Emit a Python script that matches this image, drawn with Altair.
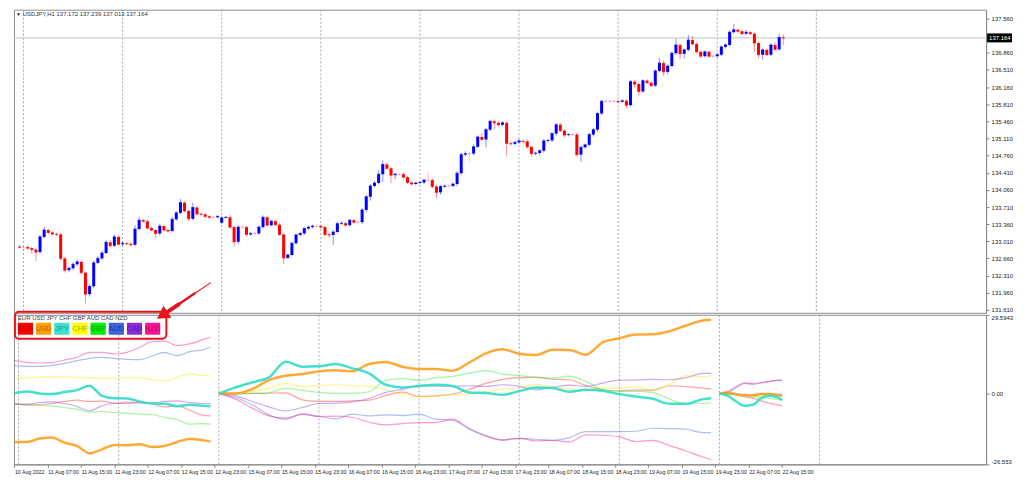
import altair as alt
import pandas as pd
import math

# ---------------- data ----------------
# USDJPY H1 closes, bar 0 = 10 Aug 23:00 ... bar 185 = 22 Aug 16:00
closes = [
    132.89, 132.89, 132.87, 132.84, 132.79, 133.10, 133.24, 133.19, 133.16, 133.15,
    132.66, 132.42, 132.46, 132.54, 132.59, 132.37, 131.93, 132.09, 132.57, 132.66,
    132.77, 132.99, 132.92, 133.10, 132.95, 132.97, 132.96, 132.94, 133.26, 133.44,
    133.42, 133.28, 133.24, 133.17, 133.32, 133.24, 133.22, 133.46, 133.59, 133.80,
    133.63, 133.47, 133.70, 133.57, 133.56, 133.52, 133.50, 133.50, 133.52, 133.49,
    133.50, 133.30, 133.00, 133.30, 133.30, 133.15, 133.17, 133.17, 133.30, 133.50,
    133.34, 133.42, 133.35, 133.15, 132.67, 132.73, 132.97, 133.14, 133.17, 133.27,
    133.30, 133.32, 133.32, 133.30, 133.15, 133.14, 133.20, 133.37, 133.38, 133.34,
    133.44, 133.40, 133.40, 133.65, 133.92, 134.14, 134.20, 134.38, 134.58, 134.50,
    134.36, 134.38, 134.38, 134.32, 134.21, 134.18, 134.20, 134.21, 134.26, 134.26,
    134.13, 134.01, 134.13, 134.14, 134.14, 134.18, 134.40, 134.78, 134.80, 134.80,
    134.94, 135.14, 135.09, 135.29, 135.46, 135.43, 135.39, 135.43, 135.01, 135.00,
    135.03, 135.06, 135.05, 134.94, 134.80, 134.81, 134.86, 135.06, 135.07, 135.21,
    135.39, 135.27, 135.18, 135.19, 135.19, 134.78, 134.93, 134.98, 135.19, 135.29,
    135.62, 135.87, 135.87, 135.87, 135.87, 135.86, 135.88, 135.79, 136.27, 136.22,
    136.07, 136.29, 136.25, 136.19, 136.49, 136.65, 136.47, 136.59, 136.85, 137.02,
    136.84, 136.92, 137.12, 137.04, 136.88, 136.79, 136.88, 136.79, 136.79, 136.82,
    136.98, 137.02, 137.28, 137.33, 137.30, 137.25, 137.28, 137.25, 137.06, 136.82,
    136.92, 136.82, 137.02, 136.93, 137.172, 137.164,
]
upper_wick = [
    .03, .03, .03, .03, .03, .04, .07, .03, .03, .03,
    .03, .03, .04, .04, .04, .03, .03, .05, .05, .05,
    .05, .05, .04, .05, .03, .03, .03, .03, .08, .07,
    .03, .03, .03, .03, .04, .03, .03, .05, .04, .08,
    .03, .03, .10, .04, .03, .03, .02, .02, .02, .03,
    .03, .05, .03, .04, .03, .03, .03, .03, .03, .04,
    .03, .03, .03, .03, .03, .03, .03, .03, .03, .03,
    .03, .03, .03, .03, .03, .03, .04, .04, .03, .03,
    .03, .03, .03, .04, .04, .04, .04, .08, .08, .04,
    .03, .03, .03, .04, .03, .03, .03, .03, .03, .16,
    .04, .03, .03, .03, .03, .03, .04, .04, .05, .03,
    .05, .03, .09, .04, .03, .04, .03, .03, .03, .03,
    .03, .04, .03, .04, .03, .03, .03, .04, .03, .03,
    .04, .04, .03, .03, .03, .04, .03, .03, .04, .04,
    .04, .03, .02, .02, .02, .03, .03, .03, .04, .03,
    .03, .03, .03, .04, .03, .10, .05, .03, .04, .13,
    .03, .03, .10, .08, .03, .03, .03, .03, .03, .03,
    .03, .03, .04, .12, .03, .03, .05, .03, .03, .03,
    .03, .03, .03, .06, .08, .07,
]
lower_wick = [
    .03, .03, .03, .08, .18, .03, .03, .03, .03, .03,
    .04, .05, .04, .04, .04, .03, .19, .05, .03, .03,
    .03, .03, .04, .03, .03, .03, .03, .03, .03, .03,
    .03, .03, .03, .10, .04, .03, .03, .03, .03, .03,
    .03, .05, .03, .04, .03, .03, .02, .02, .02, .03,
    .03, .03, .10, .05, .03, .04, .03, .03, .03, .03,
    .03, .03, .03, .03, .13, .03, .03, .03, .03, .03,
    .03, .03, .03, .03, .04, .06, .20, .03, .03, .03,
    .03, .03, .03, .04, .05, .08, .03, .03, .16, .03,
    .16, .08, .03, .04, .03, .03, .03, .03, .03, .03,
    .04, .12, .05, .03, .03, .03, .04, .04, .03, .16,
    .03, .03, .03, .16, .03, .14, .03, .03, .25, .03,
    .03, .03, .03, .04, .06, .03, .03, .04, .03, .03,
    .05, .03, .05, .03, .03, .04, .15, .03, .04, .04,
    .04, .03, .02, .02, .02, .03, .03, .07, .03, .07,
    .08, .03, .03, .03, .03, .03, .08, .05, .03, .03,
    .12, .10, .03, .03, .03, .03, .03, .03, .03, .03,
    .03, .03, .03, .03, .03, .03, .03, .03, .18, .07,
    .10, .03, .03, .03, .03, .15,
]
first_open = 132.90
gap_open = {49: 133.39}          # Monday 15 Aug open
current_bar = {"open": 137.172, "high": 137.239, "low": 137.013, "close": 137.164}

time_labels = [
    "10 Aug 2022", "11 Aug 07:00", "11 Aug 15:00", "11 Aug 23:00", "12 Aug 07:00",
    "12 Aug 15:00", "12 Aug 23:00", "15 Aug 07:00", "15 Aug 15:00", "15 Aug 23:00",
    "16 Aug 07:00", "16 Aug 15:00", "16 Aug 23:00", "17 Aug 07:00", "17 Aug 15:00",
    "17 Aug 23:00", "18 Aug 07:00", "18 Aug 15:00", "18 Aug 23:00", "19 Aug 07:00",
    "19 Aug 15:00", "19 Aug 23:00", "22 Aug 07:00", "22 Aug 15:00",
]
label_step = 8
day_starts = [1, 25, 49, 73, 97, 121, 145, 169, 193]
price_ticks = [131.61, 131.96, 132.31, 132.66, 133.01, 133.36, 133.71, 134.06,
               134.41, 134.76, 135.11, 135.46, 135.81, 136.16, 136.51, 136.86, 137.56]
strength_ticks = [-26.553, 0.0, 29.5943]
strength_tick_labels = ["-26.553", "0.00", "29.5943"]

currencies = ["EUR", "USD", "JPY", "CHF", "GBP", "AUD", "CAD", "NZD"]
line_colors = ["#ff3030", "#ffa020", "#30dcc8", "#eeee00", "#30ee30", "#4a6ee0", "#9040e0", "#ff2090"]
box_colors = ["#ff0000", "#ff9f00", "#40e0d0", "#ffff00", "#00ee00", "#3f63dd", "#8a2be2", "#ff1493"]
box_text_colors = ["#b00000", "#c06000", "#1a9e90", "#a8a800", "#009a00", "#1c3a9a", "#561a9c", "#b0105a"]
thick_currencies = ["USD", "JPY"]

seg_bars = {
    "A": [0, 3, 6, 9, 12, 15, 18, 21, 24, 27, 30, 33, 36, 39, 42, 45, 47],
    "B": [49, 53, 57, 61, 65, 69, 73, 77, 81, 85, 89, 93, 97, 101, 105, 109, 113,
          117, 121, 125, 129, 133, 137, 141, 145, 149, 153, 157, 161, 165, 167],
    "C": [169, 171, 173, 175, 177, 179, 181, 183, 184],
}
strength = {
    "A": {
        "EUR": [-3.96, -4.21, -4.08, -3.71, -2.95, -2.45, -2.95, -2.83, -3.58, -3.20, -3.45, -3.83, -4.96, -4.58, -6.22, -8.10, -8.35],
        "USD": [-18.15, -18.15, -16.89, -16.52, -18.40, -19.66, -22.42, -20.91, -19.28, -19.40, -19.03, -20.03, -19.66, -18.15, -17.02, -17.40, -18.02],
        "JPY": [0.19, 0.82, 0.06, -0.19, 0.57, 1.32, 2.95, -0.82, -1.70, -1.82, -2.95, -3.71, -3.83, -4.71, -4.21, -4.58, -4.71],
        "CHF": [5.84, 5.97, 6.09, 6.22, 6.34, 6.09, 5.97, 5.84, 5.84, 5.97, 5.97, 5.21, 4.84, 6.09, 7.35, 6.84, 6.59],
        "GBP": [-3.96, -4.21, -4.46, -4.71, -5.21, -5.84, -6.97, -6.72, -7.10, -7.35, -7.72, -7.85, -8.98, -9.73, -11.49, -11.24, -11.49],
        "AUD": [10.49, 10.24, 10.24, 10.61, 11.37, 12.37, 13.25, 13.63, 13.25, 12.87, 12.75, 14.13, 15.51, 14.26, 15.76, 16.39, 17.40],
        "CAD": [-3.96, -3.96, -3.33, -3.08, -3.71, -4.84, -6.47, -4.58, -3.71, -3.71, -3.33, -3.58, -2.95, -2.70, -3.33, -3.71, -3.71],
        "NZD": [12.37, 11.74, 11.49, 11.62, 12.62, 13.63, 15.51, 15.51, 14.88, 15.51, 17.40, 19.53, 19.66, 18.02, 18.65, 20.16, 21.17],
    },
    "B": {
        "EUR": [0, 0.06, 0.06, 0.19, 0.31, -2.32, -2.95, -2.95, -2.70, -2.45, -0.69, 0.57, -1.07, -0.82, -0.19, 1.57, 3.83, 5.34, 5.97, 6.09, 5.46, 5.21, 3.08, 1.44, 1.07, 1.32, 1.32, 2.95, 2.57, 2.07, 1.70],
        "USD": [0, 0.06, 1.70, 5.09, 6.72, 7.35, 8.35, 8.73, 8.35, 11.12, 11.87, 10.11, 9.23, 9.23, 8.60, 11.62, 15.13, 16.64, 14.99, 14.50, 16.45, 16.33, 14.63, 19.28, 20.79, 22.17, 22.29, 23.42, 25.56, 27.44, 27.69],
        "JPY": [0, 2.32, 4.21, 6.09, 11.99, 10.11, 10.24, 11.12, 9.49, 7.60, 3.33, 2.32, 2.83, 3.33, 2.83, 0.44, 0.19, -0.44, 0.94, 2.32, 2.07, 0.69, 1.44, 1.07, -0.19, -1.07, -1.95, -3.83, -3.83, -2.07, -1.70],
        "CHF": [0, 0.06, 0.82, 2.07, 3.83, 2.70, 2.95, 3.33, 2.95, 2.83, 1.44, -0.31, -1.19, -0.82, -0.31, -0.31, 0.82, 1.70, 2.20, 3.45, 2.45, 1.70, 1.19, 2.07, 2.07, 2.57, 1.19, 3.45, 6.72, 6.34, 6.72],
        "GBP": [0, -0.19, 0.06, 0.31, 1.95, 1.19, 0.44, 0.06, 0.06, 0.69, 4.96, 5.59, 4.96, 5.97, 6.47, 7.72, 8.60, 7.35, 6.72, 6.22, 5.84, 6.59, 4.58, 1.44, 0.82, 0.82, 0.44, -2.07, -3.83, -3.71, -3.33],
        "AUD": [0, -1.44, -4.21, -7.97, -9.61, -7.72, -8.60, -9.48, -7.72, -8.35, -7.97, -8.23, -7.72, -9.61, -9.98, -13.38, -15.89, -17.27, -16.77, -17.14, -17.52, -16.52, -14.26, -14.26, -14.26, -14.13, -13.00, -13.13, -13.38, -14.63, -14.63],
        "CAD": [0, -0.82, -2.95, -4.96, -6.47, -5.21, -3.71, -3.58, -3.08, -1.82, 0.44, 1.57, 2.95, 2.83, 2.70, 2.95, 2.70, 3.33, 2.70, 1.44, 2.32, 3.20, 2.70, 3.96, 5.09, 5.09, 5.34, 5.21, 5.97, 7.60, 7.60],
        "NZD": [0, -2.07, -5.46, -8.35, -9.23, -7.72, -8.60, -8.48, -8.98, -10.74, -11.74, -11.24, -10.86, -10.86, -9.61, -12.99, -15.89, -17.52, -16.77, -17.77, -17.52, -18.15, -15.51, -15.64, -16.26, -18.02, -17.52, -19.53, -21.54, -23.80, -24.68],
    },
    "C": {
        "EUR": [0, -0.19, -0.44, -1.19, -1.70, -2.70, -3.58, -4.21, -4.58],
        "USD": [0, 0.44, -0.31, -0.69, -0.57, -0.19, -0.19, -0.57, -0.82],
        "JPY": [0, -0.82, -2.95, -4.58, -4.21, -1.70, -0.82, -1.44, -2.45],
        "CHF": [0, -0.19, -0.44, -0.94, -1.07, -0.82, -0.82, -0.82, -0.82],
        "GBP": [0, -0.19, -0.44, -0.82, -1.07, -1.44, -1.82, -2.20, -2.45],
        "AUD": [0, 0.44, 2.20, 3.83, 3.45, 4.08, 4.58, 5.09, 5.09],
        "CAD": [0, 0.06, -0.06, -0.31, -0.44, -0.31, -0.19, -0.19, -0.19],
        "NZD": [0, 0.82, 2.70, 4.08, 3.83, 4.08, 4.58, 4.96, 4.84],
    },
}

# ---------------- tables ----------------
n = len(closes)
opens = [first_open] + closes[:-1]
for k, v in gap_open.items():
    opens[k] = v
opens[-1] = current_bar["open"]
rows = []
for i in range(n):
    o, c = opens[i], closes[i]
    hi = max(o, c) + upper_wick[i]
    lo = min(o, c) - lower_wick[i]
    if i == n - 1:
        hi, lo = current_bar["high"], current_bar["low"]
    d = "up" if c > o + 1e-9 else ("down" if c < o - 1e-9 else "doji")
    rows.append(dict(i=i, open=o, close=c, high=hi, low=lo, dir=d))
candles = pd.DataFrame(rows)

lrows = []
for seg, bars in seg_bars.items():
    for cur, vals in strength[seg].items():
        for b, v in zip(bars, vals):
            lrows.append(dict(seg=seg, i=b, cur=cur, v=v))
lines_df = pd.DataFrame(lrows)

# ---------------- layout ----------------
FONT = "Liberation Sans"
W, H1, H2 = 975, 304, 150
sx = W / 995.0
sy1 = H1 / 311.0
sy2 = H2 / 150.0
rx = lambda X: (X - 2) * sx
ry1 = lambda Y: (Y - 2) * sy1
ry2 = lambda Y: (Y - 315) * sy2

X_DOMAIN = [-0.1, 232.9]
P_DOMAIN = [131.55, 137.74]
S_DOMAIN = [strength_ticks[0], strength_ticks[-1]]

xs = alt.Scale(domain=X_DOMAIN, nice=False, zero=False)
ps = alt.Scale(domain=P_DOMAIN, nice=False, zero=False)
ss = alt.Scale(domain=S_DOMAIN, nice=False, zero=False)
dir_scale = alt.Scale(domain=["up", "down", "doji"], range=["#0000ff", "#ff0000", "#ff66cc"])
cur_scale = alt.Scale(domain=currencies, range=line_colors)

yax1 = alt.Axis(orient="right", values=price_ticks, format=".3f", title=None, grid=False,
                labelFontSize=6, labelFont=FONT, labelColor="#222", tickSize=3,
                tickColor="#888", domainColor="#888", labelPadding=2)
label_array = "[" + ",".join("'%s'" % t for t in time_labels) + "]"
xax = alt.Axis(values=list(range(0, label_step * len(time_labels), label_step)),
               labelExpr=label_array + "[round(datum.value/%d)]" % label_step,
               labelAlign="left", labelFontSize=5.3, labelFont=FONT, labelColor="#222",
               tickSize=3, tickColor="#888", domainColor="#888", labelPadding=2,
               labelOverlap=False, labelFlush=False, grid=False, title=None)
yax2 = alt.Axis(orient="right", values=strength_ticks,
                labelExpr="datum.value > 1 ? '%s' : (datum.value < -1 ? '%s' : '%s')" % (
                    strength_tick_labels[2], strength_tick_labels[0], strength_tick_labels[1]),
                title=None, grid=False, labelFlush=True, labelFontSize=6, labelFont=FONT,
                labelColor="#222", tickSize=3, tickColor="#888", domainColor="#888", labelPadding=2)

one = alt.Data(values=[{}])
seps_df = pd.DataFrame({"i": day_starts})

# ---------------- upper pane ----------------
seps_up = alt.Chart(seps_df).mark_rule(color="#a8a8a8", strokeDash=[2, 2], strokeWidth=1).encode(
    x=alt.X("i:Q", scale=xs, axis=None))
price_line = alt.Chart(pd.DataFrame({"p": [current_bar["close"]]})).mark_rule(
    color="#c4c4c4", strokeWidth=1).encode(y=alt.Y("p:Q", scale=ps, axis=yax1))
wicks = alt.Chart(candles).mark_rule(strokeWidth=1, opacity=0.45).encode(
    x=alt.X("i:Q", scale=xs, axis=None),
    y=alt.Y("low:Q", scale=ps, axis=yax1), y2="high:Q",
    color=alt.Color("dir:N", scale=dir_scale, legend=None))
bodies = alt.Chart(candles).mark_bar(size=3).encode(
    x=alt.X("i:Q", scale=xs, axis=None),
    y=alt.Y("open:Q", scale=ps, axis=yax1), y2="close:Q",
    color=alt.Color("dir:N", scale=dir_scale, legend=None))
dojis = alt.Chart(candles).mark_tick(orient="horizontal", size=3, thickness=1).encode(
    x=alt.X("i:Q", scale=xs, axis=None),
    y=alt.Y("close:Q", scale=ps, axis=yax1),
    color=alt.Color("dir:N", scale=dir_scale, legend=None))
header_tri = alt.Chart(one).mark_text(text="▼", fontSize=5, color="#222", align="left",
                                      baseline="middle").encode(
    x=alt.value(rx(4)), y=alt.value(ry1(6)))
header = alt.Chart(one).mark_text(
    text="USDJPY,H1  %.3f %.3f %.3f %.3f" % (current_bar["open"], current_bar["high"],
                                             current_bar["low"], current_bar["close"]),
    fontSize=6, font=FONT, color="#333", align="left", baseline="middle").encode(
    x=alt.value(rx(11)), y=alt.value(ry1(6)))
py = H1 * (P_DOMAIN[1] - current_bar["close"]) / (P_DOMAIN[1] - P_DOMAIN[0])
plabel_bg = alt.Chart(one).mark_rect(color="#000000").encode(
    x=alt.value(W + 1), x2=alt.value(W + 26), y=alt.value(py - 4.5), y2=alt.value(py + 4.5))
plabel = alt.Chart(one).mark_text(text="%.3f" % current_bar["close"], fontSize=6, font=FONT,
                                  color="white", align="left", baseline="middle").encode(
    x=alt.value(W + 3), y=alt.value(py))

upper = alt.layer(seps_up, price_line, wicks, bodies, dojis, header_tri, header,
                  plabel_bg, plabel).properties(width=W, height=H1)

# ---------------- lower pane ----------------
seps_lo = alt.Chart(seps_df).mark_rule(color="#a8a8a8", strokeDash=[2, 2], strokeWidth=1).encode(
    x=alt.X("i:Q", scale=xs, axis=xax))
thin_list = [c for c in currencies if c not in thick_currencies]
thin = alt.Chart(lines_df).transform_filter(
    alt.FieldOneOfPredicate(field="cur", oneOf=thin_list)).mark_line(
    strokeWidth=1.2, opacity=0.45, interpolate="monotone").encode(
    x=alt.X("i:Q", scale=xs, axis=xax), y=alt.Y("v:Q", scale=ss, axis=yax2),
    color=alt.Color("cur:N", scale=cur_scale, legend=None), detail="seg:N")
thick = alt.Chart(lines_df).transform_filter(
    alt.FieldOneOfPredicate(field="cur", oneOf=thick_currencies)).mark_line(
    strokeWidth=2.5, opacity=0.9, interpolate="monotone").encode(
    x=alt.X("i:Q", scale=xs, axis=xax), y=alt.Y("v:Q", scale=ss, axis=yax2),
    color=alt.Color("cur:N", scale=cur_scale, legend=None), detail="seg:N")

lower_layers = [seps_lo, thin, thick]
lower_layers.append(alt.Chart(one).mark_text(text=" ".join(currencies[:3]) + "  " + " ".join(currencies[3:]),
                                             fontSize=6, font=FONT, color="#444", align="left",
                                             baseline="middle").encode(
    x=alt.value(rx(6)), y=alt.value(ry2(318))))
box_x0, box_w, box_pitch = 6, 15.5, 18.6
for k, cur in enumerate(currencies):
    x0 = box_x0 + box_pitch * k
    lower_layers.append(alt.Chart(one).mark_rect(color=box_colors[k]).encode(
        x=alt.value(rx(x0)), x2=alt.value(rx(x0 + box_w)),
        y=alt.value(ry2(323)), y2=alt.value(ry2(335))))
    lower_layers.append(alt.Chart(one).mark_text(text=cur, fontSize=7.5, font=FONT,
                                                 color=box_text_colors[k], align="center",
                                                 baseline="middle").encode(
        x=alt.value(rx(x0 + box_w / 2)), y=alt.value(ry2(329.5))))
lower_layers.append(alt.Chart(one).mark_rect(fillOpacity=0, stroke="#e8141c", strokeWidth=2,
                                             cornerRadius=4).encode(
    x=alt.value(rx(3)), x2=alt.value(rx(158)), y=alt.value(ry2(312)), y2=alt.value(ry2(339))))

# arrow pointing at the legend
sxp, syp = rx(203), ry2(283)
txp, typ = rx(147), ry2(320)
dx, dy = txp - sxp, typ - syp
ln = (dx * dx + dy * dy) ** 0.5
ux, uy = dx / ln, dy / ln
cx, cy = txp - 8 * ux, typ - 8 * uy
pieces = [(0.0, 0.35, 1.2), (0.33, 0.68, 2.4), (0.66, 1.0, 4.0)]
for a, b, wdt in pieces:
    lower_layers.append(alt.Chart(one).mark_rule(color="#e8141c", strokeWidth=wdt, strokeCap="round").encode(
        x=alt.value(sxp + (cx - sxp) * a), y=alt.value(syp + (cy - syp) * a),
        x2=alt.value(sxp + (cx - sxp) * b), y2=alt.value(syp + (cy - syp) * b)))
ang = (math.degrees(math.atan2(ux, -uy)) + 360) % 360
lower_layers.append(alt.Chart(one).mark_point(shape="triangle-up", size=210, angle=ang, filled=True,
                                              color="#e8141c", opacity=1).encode(
    x=alt.value(cx), y=alt.value(cy)))

lower = alt.layer(*lower_layers).properties(width=W, height=H2)

chart = alt.vconcat(upper, lower, spacing=2, bounds="flush").resolve_scale(
    color="independent"
).properties(
    padding={"left": 0, "top": 0, "right": 2, "bottom": 0}, background="white"
).configure_view(stroke="#8c8c8c", strokeWidth=1)

chart.save("out.html", embed_options={"renderer": "svg", "actions": False})
